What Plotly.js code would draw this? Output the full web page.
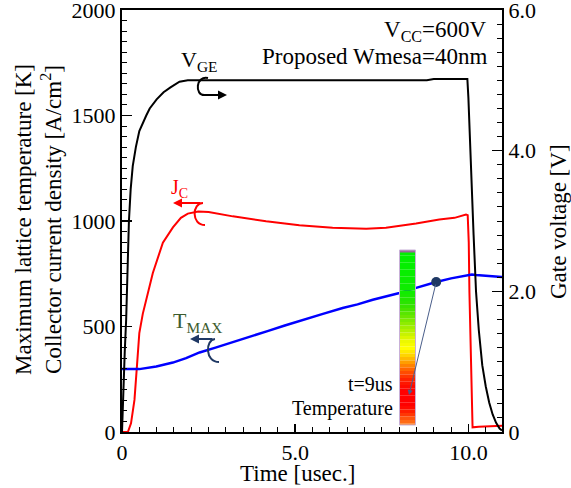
<!DOCTYPE html>
<html>
<head>
<meta charset="utf-8">
<script src="https://cdn.plot.ly/plotly-3.0.1.min.js"></script>
<style>
html,body{margin:0;padding:0;background:#fff;}
#chart{width:571px;height:488px;}
</style>
</head>
<body>
<div id="chart"></div>
<script>
// ---- data ----
const timeVge = [0, 0.02, 0.05, 0.08, 0.12, 0.16, 0.2, 0.25, 0.31, 0.4, 0.5, 0.7, 0.8, 1.0, 1.2, 1.4, 1.66, 1.9, 2.3, 5.0, 8.8, 9.0, 9.97, 10.0, 10.05, 10.1, 10.15, 10.22, 10.3, 10.4, 10.5, 10.6, 10.7, 10.8, 10.9, 10.97];
const vge     = [0, 0.35, 0.8, 1.15, 1.6, 2.3, 3.0, 3.45, 3.78, 4.05, 4.28, 4.5, 4.6, 4.73, 4.83, 4.9, 4.98, 5.0, 5.0, 5.0, 5.0, 5.02, 5.02, 4.75, 4.05, 3.45, 2.8, 2.0, 1.45, 0.95, 0.65, 0.42, 0.25, 0.13, 0.05, 0.02];

const timeJc = [0, 0.17, 0.26, 0.36, 0.43, 0.5, 0.6, 0.7, 0.89, 1.18, 1.47, 1.7, 1.9, 2.2, 2.5, 3.2, 4.16, 5.12, 6.08, 7.05, 7.62, 8.49, 9.16, 9.6, 9.93, 9.98, 10.01, 10.03, 10.06, 10.08, 10.1, 10.12, 10.3, 10.6, 10.97];
const jc     = [0, 0, 41, 152, 310, 469, 560, 627, 754, 897, 970, 1015, 1035, 1045, 1043, 1022, 999, 980, 968, 963, 968, 988, 1007, 1015, 1031, 1028, 900, 660, 400, 184, 80, 22, 25, 27, 30];

const timeT = [0, 0.5, 0.99, 1.47, 1.85, 2.24, 2.7, 3.2, 3.7, 4.2, 4.7, 5.22, 5.8, 6.37, 6.8, 7.24, 7.6, 8.01, 8.49, 9.07, 9.5, 9.93, 10.1, 10.22, 10.5, 10.97];
const tmax  = [298, 298, 310, 329, 350, 377, 400, 425, 450, 478, 505, 532, 560, 588, 605, 627, 642, 659, 683, 711, 728, 741, 746, 744, 740, 735];

const markTime = [9.07];
const markTemp = [711];

const xTickVals = [0, 5, 10];
const xTickText = ['0', '5.0', '10.0'];
const yTickVals = [0, 500, 1000, 1500, 2000];
const yTickText = ['0', '500', '1000', '1500', '2000'];
const y2TickVals = [0, 2, 4, 6];
const y2TickText = ['0', '2.0', '4.0', '6.0'];

// ---- layout helpers (pixel -> paper) ----
const L = 122, T = 10, W = 380, H = 422;
const px = p => (p - L) / W;
const py = p => (T + H - p) / H;
const FONT = 'Liberation Serif, Times New Roman, Times, serif';

const traces = [
  {x: timeVge, y: vge, yaxis: 'y2', mode: 'lines', line: {color: '#000000', width: 2}, hoverinfo: 'skip'},
  {x: timeJc, y: jc, mode: 'lines', line: {color: '#ff0000', width: 2}, hoverinfo: 'skip'},
  {x: timeT, y: tmax, mode: 'lines', line: {color: '#0000ff', width: 2.5}, hoverinfo: 'skip'},
  {x: markTime, y: markTemp, mode: 'markers', marker: {color: '#1f3864', size: 10}, hoverinfo: 'skip'}
];

// colour bar bands
const stops = [
  [252, [0, 240, 0]], [292, [16, 236, 0]], [305, [48, 226, 0]], [318, [112, 232, 0]],
  [330, [176, 240, 0]], [340, [232, 248, 0]], [348, [255, 255, 0]], [356, [255, 208, 0]],
  [364, [255, 144, 0]], [372, [255, 80, 0]], [380, [255, 32, 0]], [390, [255, 0, 0]],
  [406, [255, 0, 0]], [413, [255, 40, 0]], [419, [255, 90, 16]], [425, [255, 128, 32]]
];
function colAt(p) {
  for (let i = 0; i < stops.length - 1; i++) {
    const a = stops[i], b = stops[i + 1];
    if (p >= a[0] && p <= b[0]) {
      const f = (p - a[0]) / (b[0] - a[0]);
      const c = a[1].map((v, k) => Math.round(v + (b[1][k] - v) * f));
      return 'rgb(' + c.join(',') + ')';
    }
  }
  return 'rgb(255,128,32)';
}
const shapes = [];
const bx0 = 399.5, bx1 = 415.5;
for (let p = 252; p < 425; p += 3.5) {
  shapes.push({type: 'rect', xref: 'paper', yref: 'paper', x0: px(bx0), x1: px(bx1), y0: py(Math.min(p + 3.6, 425)), y1: py(p),
    fillcolor: colAt(p + 1.75), line: {width: 0}, layer: 'above'});
}
shapes.push({type: 'rect', xref: 'paper', yref: 'paper', x0: px(bx0), x1: px(bx1), y0: py(252.5), y1: py(250),
  fillcolor: '#9a6a9a', line: {width: 0}});
shapes.push({type: 'rect', xref: 'paper', yref: 'paper', x0: px(bx0), x1: px(bx1), y0: py(425), y1: py(250),
  fillcolor: 'rgba(0,0,0,0)', line: {color: '#c8b0d8', width: 1}});

// loop symbols
function pth(pts) {
  return 'M ' + px(pts[0][0]) + ',' + py(pts[0][1]) + ' C ' +
    pts.slice(1, 4).map(q => px(q[0]) + ',' + py(q[1])).join(' ') +
    (pts.length > 4 ? ' L ' + px(pts[4][0]) + ',' + py(pts[4][1]) : '');
}
shapes.push({type: 'path', xref: 'paper', yref: 'paper', path: pth([[208, 78], [196, 75], [194, 96], [205, 95], [222, 95]]), line: {color: '#000', width: 2}});
shapes.push({type: 'path', xref: 'paper', yref: 'paper', path: pth([[203, 203], [192, 203], [191, 225], [205, 225]]), line: {color: '#ff0000', width: 2}});
shapes.push({type: 'path', xref: 'paper', yref: 'paper', path: pth([[215, 339], [205, 340], [205, 362], [219, 362]]), line: {color: '#1f3864', width: 2}});

function arrow(x0, y0, x1, y1, color, w, head) {
  return {xref: 'paper', yref: 'paper', x: px(x1), y: py(y1), ax: px(x0), ay: py(y0), axref: 'paper', ayref: 'paper',
    text: '', showarrow: true, arrowhead: head, arrowsize: 1, arrowwidth: w, arrowcolor: color, standoff: 0, startstandoff: 0};
}
function txt(text, x, y, size, color, xanchor, extra) {
  return Object.assign({xref: 'paper', yref: 'paper', x: px(x), y: py(y), text: text, showarrow: false,
    xanchor: xanchor || 'center', yanchor: 'middle', font: {family: FONT, size: size, color: color || '#000'}}, extra || {});
}

const annotations = [
  txt('V<sub>CC</sub>=600V', 489, 31, 23, '#000', 'right'),
  txt('Proposed Wmesa=40nm', 489, 56, 23, '#000', 'right'),
  txt('V<sub>GE</sub>', 179, 61, 22, '#000', 'left'),
  txt('J<sub>C</sub>', 169, 188, 20, '#ff0000', 'left'),
  txt('T<sub>MAX</sub>', 171, 322, 22, '#3d5c2e', 'left'),
  txt('t=9us', 395, 384, 20, '#000', 'right'),
  txt('Temperature', 395, 408, 20, '#000', 'right'),
  txt('Time [usec.]', 297, 473, 23, '#000', 'center'),
  txt('Maximum lattice temperature [K]<br>Collector current density [A/cm<sup>2</sup>]', 38, 220, 23, '#000', 'center', {textangle: -90}),
  txt('Gate voltage [V]', 558, 222, 23, '#000', 'center', {textangle: -90}),
  arrow(204, 95, 227, 95, '#000', 1.8, 2),
  arrow(202, 203, 173, 203, '#ff0000', 1.8, 2),
  arrow(214, 339, 190, 339, '#1f3864', 1.8, 2),
  arrow(436, 283, 409, 395, '#4a5e8a', 1, 2)
];

const axisCommon = {showgrid: false, zeroline: false, showline: true, linecolor: '#000', linewidth: 2,
  ticks: 'inside', tickcolor: '#000', tickwidth: 1.5, tickfont: {family: FONT, size: 22, color: '#000'}, tickmode: 'array',
  ticklabeloverflow: 'allow'};

const layout = {
  width: 571, height: 488,
  font: {family: FONT, size: 22, color: '#000'},
  margin: {l: L, r: 571 - L - W, t: T, b: 488 - T - H, pad: 0},
  paper_bgcolor: '#fff', plot_bgcolor: '#fff',
  showlegend: false,
  xaxis: Object.assign({}, axisCommon, {range: [0, 10.97], tickvals: xTickVals, ticktext: xTickText, ticklen: 8, mirror: true,
    minor: {dtick: 0.5, ticklen: 5, ticks: 'inside', tickcolor: '#000', tickwidth: 1}}),
  yaxis: Object.assign({}, axisCommon, {range: [0, 2000.01], tickvals: yTickVals, ticktext: yTickText, ticklen: 10,
    minor: {dtick: 50, ticklen: 5, ticks: 'inside', tickcolor: '#000', tickwidth: 1}}),
  yaxis2: Object.assign({}, axisCommon, {range: [0, 6.00003], overlaying: 'y', side: 'right', tickvals: y2TickVals, ticktext: y2TickText, ticklen: 10,
    minor: {dtick: 0.2, ticklen: 5, ticks: 'inside', tickcolor: '#000', tickwidth: 1}}),
  shapes: shapes,
  annotations: annotations
};

Plotly.newPlot('chart', traces, layout, {staticPlot: true, displayModeBar: false});
</script>
</body>
</html>
